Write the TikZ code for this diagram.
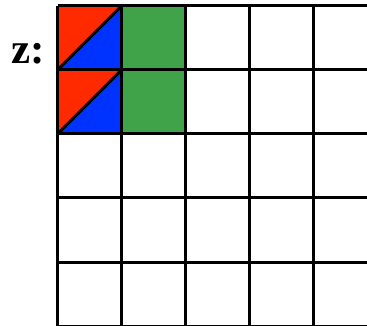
\documentclass[tikz,border=0pt]{standalone}
\usepackage{fontspec}
\setmainfont{Liberation Serif}
\begin{document}
\begin{tikzpicture}[x=1pt,y=-1pt,
  gridline/.style={line width=3pt,black},
  redtri/.style={fill={rgb,255:red,255;green,42;blue,0}},
  bluetri/.style={fill={rgb,255:red,0;green,51;blue,255}},
  greencell/.style={fill={rgb,255:red,64;green,163;blue,74}},
  lbl/.style={font=\fontsize{43}{43}\selectfont\bfseries,inner sep=0pt}]
\useasboundingbox (0,0) rectangle (367,326);
% coloured cells
\foreach \r in {0,1}{
  \fill[redtri] (57.5,{6+64*\r}) -- (121.5,{6+64*\r}) -- (57.5,{70+64*\r}) -- cycle;
  \fill[bluetri] (121.5,{6+64*\r}) -- (121.5,{70+64*\r}) -- (57.5,{70+64*\r}) -- cycle;
  \fill[greencell] (121.5,{6+64*\r}) rectangle (185.5,{70+64*\r});
  \draw[gridline] (57.5,{70+64*\r}) -- (121.5,{6+64*\r});
}
% grid
\foreach \i in {0,...,5}{
  \draw[gridline] ({57.5+64*\i},6) -- ({57.5+64*\i},326);
  \draw[gridline] (57.5,{6+64*\i}) -- (377.5,{6+64*\i});
}
\node[lbl] (z) at (28,54) {z:};
\end{tikzpicture}
\end{document}
